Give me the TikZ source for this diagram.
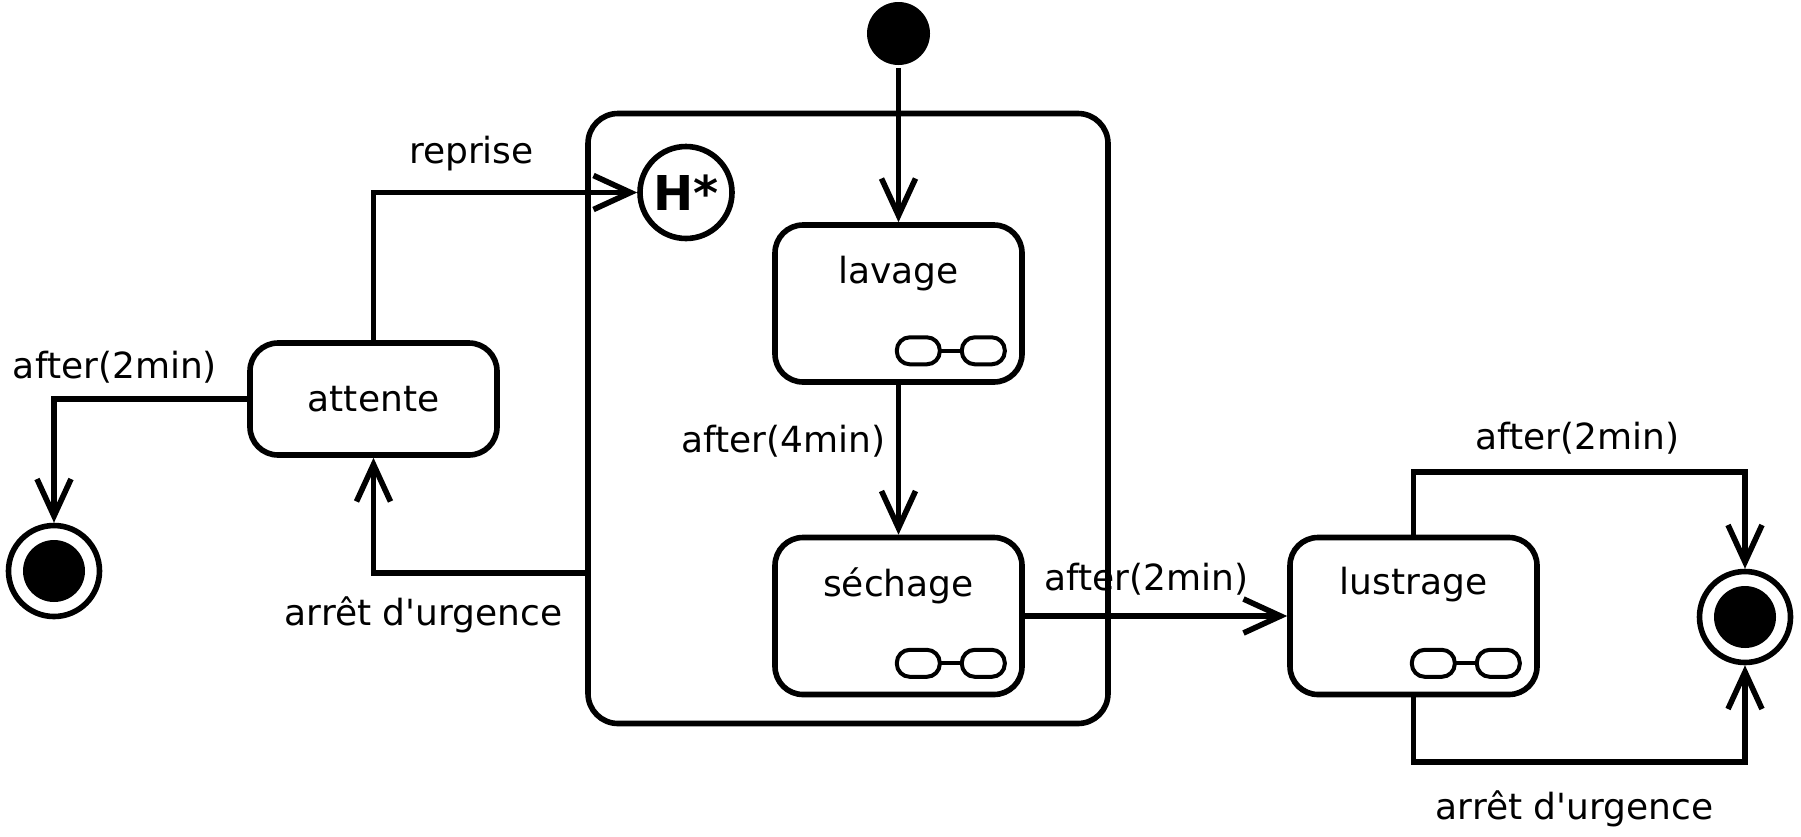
\documentclass[tikz,border=0pt]{standalone}
\usepackage{fontspec}
\setmainfont{DejaVu Sans}
\usetikzlibrary{arrows.meta}

\tikzset{Etat/.style = {draw, rounded corners=28pt, minimum width=247pt,
                        minimum height=157pt, inner sep=0pt},
         Garde/.style = {anchor=base, inner sep=0pt},
         Transition/.style = {-{Straight Barb[length=37pt,width=34pt,line cap=butt,line join=miter]}},
         Final/.style = {circle, draw, minimum size=91pt, inner sep=0pt,
                         path picture={\fill (path picture bounding box.center) circle (31pt);}},
         Pastille/.style = {line width=4pt, rounded corners=13pt}}

\newcommand{\SousEtats}[1]{%
  \draw[Pastille] ([shift={(-128,-47.5)}]#1.south east) rectangle ++(43,27);
  \draw[Pastille] ([shift={(-63,-47.5)}]#1.south east) rectangle ++(43,27);
  \draw[line width=4pt] ([shift={(-85,-34)}]#1.south east) -- ++(22,0);}

\begin{document}
\begin{tikzpicture}[x=1pt,y=-1pt,line width=5.6pt,font=\fontsize{36}{43}\selectfont]

\useasboundingbox (0,0) rectangle (1801,836);

\node[draw, rounded corners=30pt, minimum width=520pt, minimum height=610pt] (cycle) at (848,418.5) {};

\node[circle, fill, minimum size=63pt, inner sep=0pt] (init) at (898.5,33.5) {};
\node[circle, draw, minimum size=92pt, inner sep=0pt, font=\fontsize{48}{48}\selectfont\bfseries] (hist) at (686,192.5) {H*};

\node[Etat, label={[Garde, yshift=-61pt]north:lavage}] (lavage) at (898.5,303.5) {};
\node[Etat, label={[Garde, yshift=-62pt]north:séchage}] (sechage) at (898.5,616) {};
\node[Etat, label={[Garde, yshift=-60pt]north:lustrage}] (lustrage) at (1413.5,616) {};
\node[Etat, minimum height=112pt] (attente) at (373.5,399) {attente};

\node[Final] (finL) at (54,571) {};
\node[Final] (finR) at (1745,617) {};

\SousEtats{lavage}
\SousEtats{sechage}
\SousEtats{lustrage}

\draw[Transition] (init) -- (lavage);
\draw[Transition] (lavage) -- (sechage);
\draw[Transition] (sechage) -- (lustrage);
\draw[Transition] (attente.north) |- (hist);
\draw[Transition] (cycle.west |- 0,573) -| (attente.south);
\draw[Transition] (attente) -| (finL);
\draw[Transition] (lustrage.north) -- (lustrage.north |- 0,472) -| (finR);
\draw[Transition] (lustrage.south) -- (lustrage.south |- 0,762) -| (finR);

\node[Garde] (g-reprise) at (471.5,163) {reprise};
\node[Garde] (g-attente) at (115,378) {after(2min)};
\node[Garde] (g-cycle) at (423.5,625) {arrêt d\textquotesingle urgence};
\node[Garde] (g-lavage) at (783.5,452) {after(4min)};
\node[Garde] (g-sechage) at (1146.5,590) {after(2min)};
\node[Garde] (g-lustrage) at (1577.5,449) {after(2min)};
\node[Garde] (g-urgence) at (1574.5,819) {arrêt d\textquotesingle urgence};

\end{tikzpicture}
\end{document}
